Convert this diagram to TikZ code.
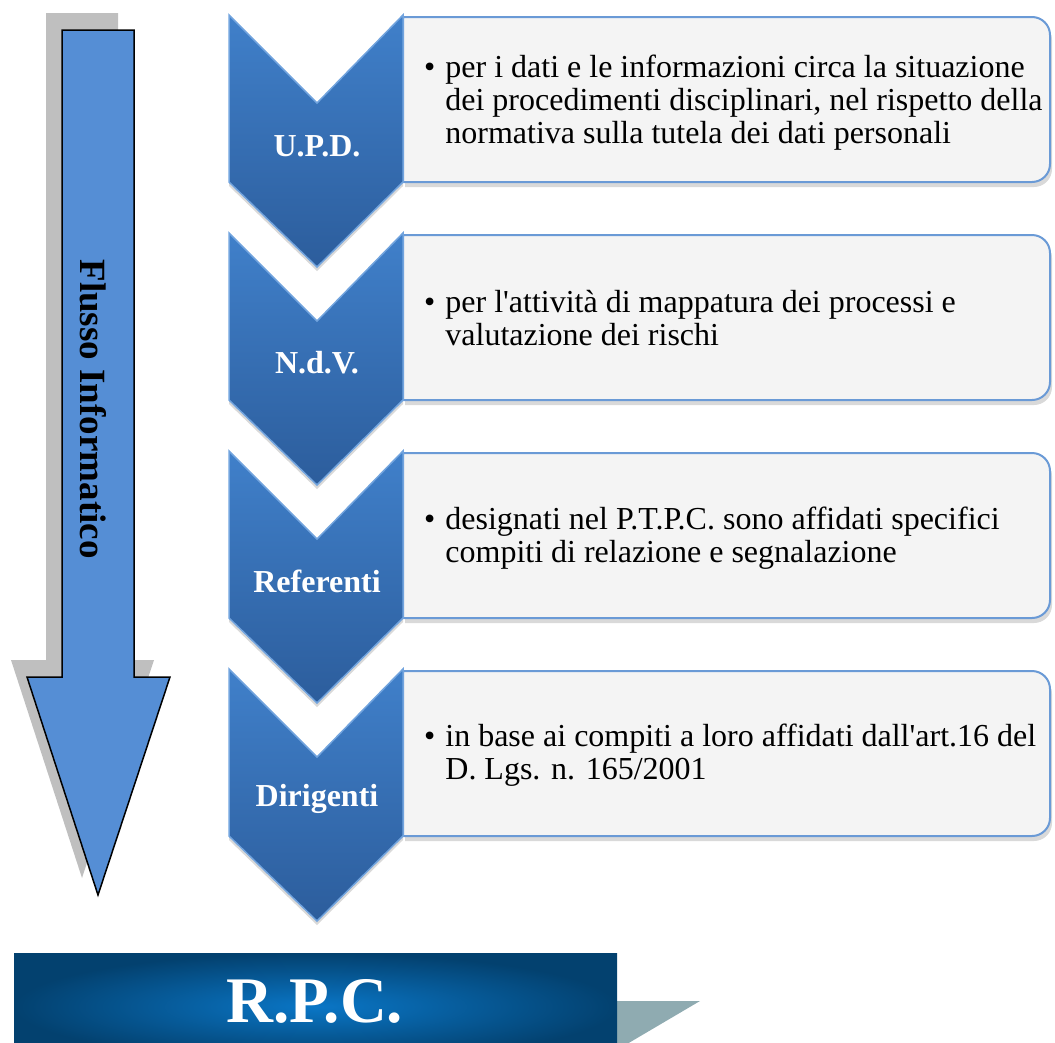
\documentclass[tikz,border=0pt]{standalone}
\usepackage{fontspec}
\setmainfont{Liberation Serif}
\usetikzlibrary{shadows}

\definecolor{arrowblue}{HTML}{558ED5}
\definecolor{shadowgray}{HTML}{BFBFBF}
\definecolor{chevtop}{HTML}{4080CA}
\definecolor{chevbot}{HTML}{2C5D9C}
\definecolor{chevedge}{HTML}{72A4DE}
\definecolor{boxfill}{HTML}{F4F4F4}
\definecolor{boxline}{HTML}{6A9AD6}
\definecolor{rpcin}{HTML}{0A76C6}
\definecolor{rpcout}{HTML}{03416F}
\definecolor{tailgray}{HTML}{8FABB1}

\tikzset{
  flowarrow/.style={fill=arrowblue, draw=black, line width=1.5pt, line join=miter,
    drop shadow={shadow xshift=-16pt, shadow yshift=17pt, fill=shadowgray, opacity=1}},
  chevron/.style={top color=chevtop, bottom color=chevbot, draw=chevedge, line width=1.5pt, line join=miter,
    drop shadow={opacity=0.3, shadow xshift=0pt, shadow yshift=-4pt}},
  infobox/.style={fill=boxfill, draw=boxline, line width=2pt,
    drop shadow={opacity=0.3, shadow xshift=2pt, shadow yshift=-5pt}},
  chevlabel/.style={text=white, font=\fontsize{32}{34}\selectfont\bfseries},
  infotext/.style={anchor=west, inner sep=0pt, font=\fontsize{32}{33}\selectfont}
}

\begin{document}
\begin{tikzpicture}[x=1pt, y=-1pt]
  \useasboundingbox (0,0) rectangle (1055,1042);

  % freccia del flusso
  \draw [flowarrow] (62,30) -- (134,30) -- (134,677) -- (170,677) -- (98,895) -- (27,677) -- (62,677) -- cycle;
  \node (flusso) [anchor=base, rotate=-90, font=\fontsize{37}{39}\selectfont\bfseries] at (80,409) {Flusso Informatico};

  % riquadri di testo
  \draw [infobox] (403,17) [rounded corners=18pt] -- (1050,17) -- (1050,182) [sharp corners] -- (403,182) -- cycle;
  \draw [infobox] (403,235) [rounded corners=18pt] -- (1050,235) -- (1050,400) [sharp corners] -- (403,400) -- cycle;
  \draw [infobox] (403,453) [rounded corners=18pt] -- (1050,453) -- (1050,618) [sharp corners] -- (403,618) -- cycle;
  \draw [infobox] (403,671) [rounded corners=18pt] -- (1050,671) -- (1050,836) [sharp corners] -- (403,836) -- cycle;

  % frecce a chevron
  \draw [chevron] (229,15) -- (317,103) -- (403,15) -- (403,182) -- (317,267) -- (229,182) -- cycle;
  \draw [chevron] (229,233) -- (317,321) -- (403,233) -- (403,400) -- (317,485) -- (229,400) -- cycle;
  \draw [chevron] (229,451) -- (317,539) -- (403,451) -- (403,618) -- (317,703) -- (229,618) -- cycle;
  \draw [chevron] (229,669) -- (317,757) -- (403,669) -- (403,836) -- (317,921) -- (229,836) -- cycle;

  \node (upd) [chevlabel] at (317,146) {U.P.D.};
  \node (ndv) [chevlabel] at (317,363) {N.d.V.};
  \node (ref) [chevlabel] at (317,581) {Referenti};
  \node (dir) [chevlabel] at (317,799) {Dirigenti};

  \node (updtxt) [infotext] at (424,104) {\begin{tabular}{@{}l@{\hspace{10pt}}l@{}}
    \textbullet & per i dati e le informazioni circa la situazione\\
    & dei procedimenti disciplinari, nel rispetto della\\
    & normativa sulla tutela dei dati personali\end{tabular}};
  \node (ndvtxt) [infotext] at (424,322) {\begin{tabular}{@{}l@{\hspace{10pt}}l@{}}
    \textbullet & per l\textquotesingle attività di mappatura dei processi e\\
    & valutazione dei rischi\end{tabular}};
  \node (reftxt) [infotext] at (424,539) {\begin{tabular}{@{}l@{\hspace{10pt}}l@{}}
    \textbullet & designati nel P.T.P.C. sono affidati specifici\\
    & compiti di relazione e segnalazione\end{tabular}};
  \node (dirtxt) [infotext] at (424,756) {\begin{tabular}{@{}l@{\hspace{10pt}}l@{}}
    \textbullet & in base ai compiti a loro affidati dall\textquotesingle art.16 del\\
    & D. Lgs. n. 165/2001\end{tabular}};

  % R.P.C.
  \fill [tailgray] (610,1001) -- (700,1001) -- (610,1054) -- cycle;
  \fill [inner color=rpcin, outer color=rpcout] (14,953) rectangle (617,1060);
  \node (rpc) [text=white, font=\fontsize{65}{68}\selectfont\bfseries] at (315,1001) {R.P.C.};
\end{tikzpicture}
\end{document}
